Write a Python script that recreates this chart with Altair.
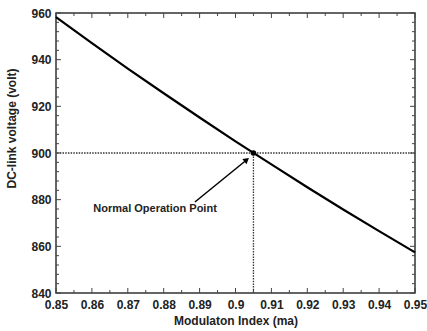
import altair as alt
import pandas as pd

# Main curve
m_index = [0.85, 0.86, 0.87, 0.88, 0.89, 0.90, 0.91, 0.92, 0.93, 0.94, 0.95]
v_dc = [958.2, 947.1, 936.2, 925.6, 915.2, 905.0, 895.1, 885.3, 875.8, 866.5, 857.4]

# Operating point
op_m = [0.905]
op_v = [900]

# Arrow and label
arrow_m = [0.8887]
arrow_v = [879.0]
arrow_m2 = [0.9029]
arrow_v2 = [896.8]
label_m = [0.8776]
label_v = [876.0]
label_text = ["Normal Operation Point"]

# Tick positions
x_major = [0.85, 0.86, 0.87, 0.88, 0.89, 0.90, 0.91, 0.92, 0.93, 0.94, 0.95]
x_minor = [0.855, 0.865, 0.875, 0.885, 0.895, 0.905, 0.915, 0.925, 0.935, 0.945]
y_major = [840, 860, 880, 900, 920, 940, 960]
y_minor = [844, 848, 852, 856, 864, 868, 872, 876, 884, 888, 892, 896,
           904, 908, 912, 916, 924, 928, 932, 936, 944, 948, 952, 956]

W, H = 359, 280
FONT = "Liberation Sans"

xs = alt.Scale(domain=[0.85, 0.95], nice=False, zero=False)
ys = alt.Scale(domain=[840, 960], nice=False, zero=False)

ax_x = alt.Axis(title="Modulaton Index (ma)", values=x_major, format="~g",
                ticks=False, domain=False, grid=False,
                labelFont=FONT, labelFontWeight="bold", labelFontSize=12,
                labelColor="#222", labelPadding=6, labelFlush=False,
                titleFont=FONT, titleFontWeight="bold", titleFontSize=12,
                titleColor="#222", titlePadding=5)
ax_y = alt.Axis(title="DC-link voltage (volt)", values=y_major,
                ticks=False, domain=False, grid=False,
                labelFont=FONT, labelFontWeight="bold", labelFontSize=12,
                labelColor="#222", labelPadding=5, labelFlush=False,
                titleFont=FONT, titleFontWeight="bold", titleFontSize=12,
                titleColor="#222", titleX=-38, titleY=115)


def X(f):
    return alt.X(f, type="quantitative", scale=xs, axis=ax_x)


def Y(f):
    return alt.Y(f, type="quantitative", scale=ys, axis=ax_y)


df = pd.DataFrame({"m": m_index, "v": v_dc})
line = alt.Chart(df).mark_line(color="black", strokeWidth=2.2).encode(x=X("m"), y=Y("v"))

hline = alt.Chart(pd.DataFrame({"v": op_v})).mark_rule(
    color="#333", strokeWidth=1.3, strokeDash=[1.5, 1.2]).encode(y=Y("v"))
vline = alt.Chart(pd.DataFrame({"m": op_m, "v": [840], "v2": op_v})).mark_rule(
    color="#333", strokeWidth=1.3, strokeDash=[1.5, 1.2]).encode(x=X("m"), y=Y("v"), y2="v2")

dot = alt.Chart(pd.DataFrame({"m": op_m, "v": op_v})).mark_circle(
    color="black", size=30, opacity=1).encode(x=X("m"), y=Y("v"))

arrow = alt.Chart(pd.DataFrame({"m": arrow_m, "v": arrow_v, "m2": arrow_m2, "v2": arrow_v2})).mark_rule(
    color="black", strokeWidth=1.5).encode(x=X("m"), y=Y("v"), x2="m2", y2="v2")
head = alt.Chart(pd.DataFrame({"m": arrow_m2, "v": arrow_v2})).mark_point(
    shape="triangle", filled=True, color="black", size=45, angle=51, opacity=1).encode(x=X("m"), y=Y("v"))

label = alt.Chart(pd.DataFrame({"m": label_m, "v": label_v, "t": label_text})).mark_text(
    font=FONT, fontWeight="bold", fontSize=11, color="#222", align="center", baseline="middle"
).encode(x=X("m"), y=Y("v"), text="t:N")

tick_col = "#444"
xmaj = pd.DataFrame({"m": x_major})
xmin = pd.DataFrame({"m": x_minor})
ymaj = pd.DataFrame({"v": y_major})
ymin = pd.DataFrame({"v": y_minor})

ticks = [
    alt.Chart(xmaj).mark_rule(color=tick_col).encode(x=X("m"), y=alt.value(H), y2=alt.value(H - 5)),
    alt.Chart(xmaj).mark_rule(color=tick_col).encode(x=X("m"), y=alt.value(0), y2=alt.value(5)),
    alt.Chart(xmin).mark_rule(color=tick_col).encode(x=X("m"), y=alt.value(H), y2=alt.value(H - 3)),
    alt.Chart(xmin).mark_rule(color=tick_col).encode(x=X("m"), y=alt.value(0), y2=alt.value(3)),
    alt.Chart(ymaj).mark_rule(color=tick_col).encode(y=Y("v"), x=alt.value(0), x2=alt.value(5)),
    alt.Chart(ymaj).mark_rule(color=tick_col).encode(y=Y("v"), x=alt.value(W), x2=alt.value(W - 5)),
    alt.Chart(ymin).mark_rule(color=tick_col).encode(y=Y("v"), x=alt.value(0), x2=alt.value(3)),
    alt.Chart(ymin).mark_rule(color=tick_col).encode(y=Y("v"), x=alt.value(W), x2=alt.value(W - 3)),
]

chart = alt.layer(hline, vline, *ticks, line, arrow, head, dot, label).properties(
    width=W, height=H,
    autosize=alt.AutoSizeParams(type="none"),
    padding={"left": 56, "top": 13, "right": 12, "bottom": 38},
    background="white",
).configure_view(stroke="#333", strokeWidth=1.5)

chart.save("out.html", embed_options={"renderer": "svg", "actions": False})
